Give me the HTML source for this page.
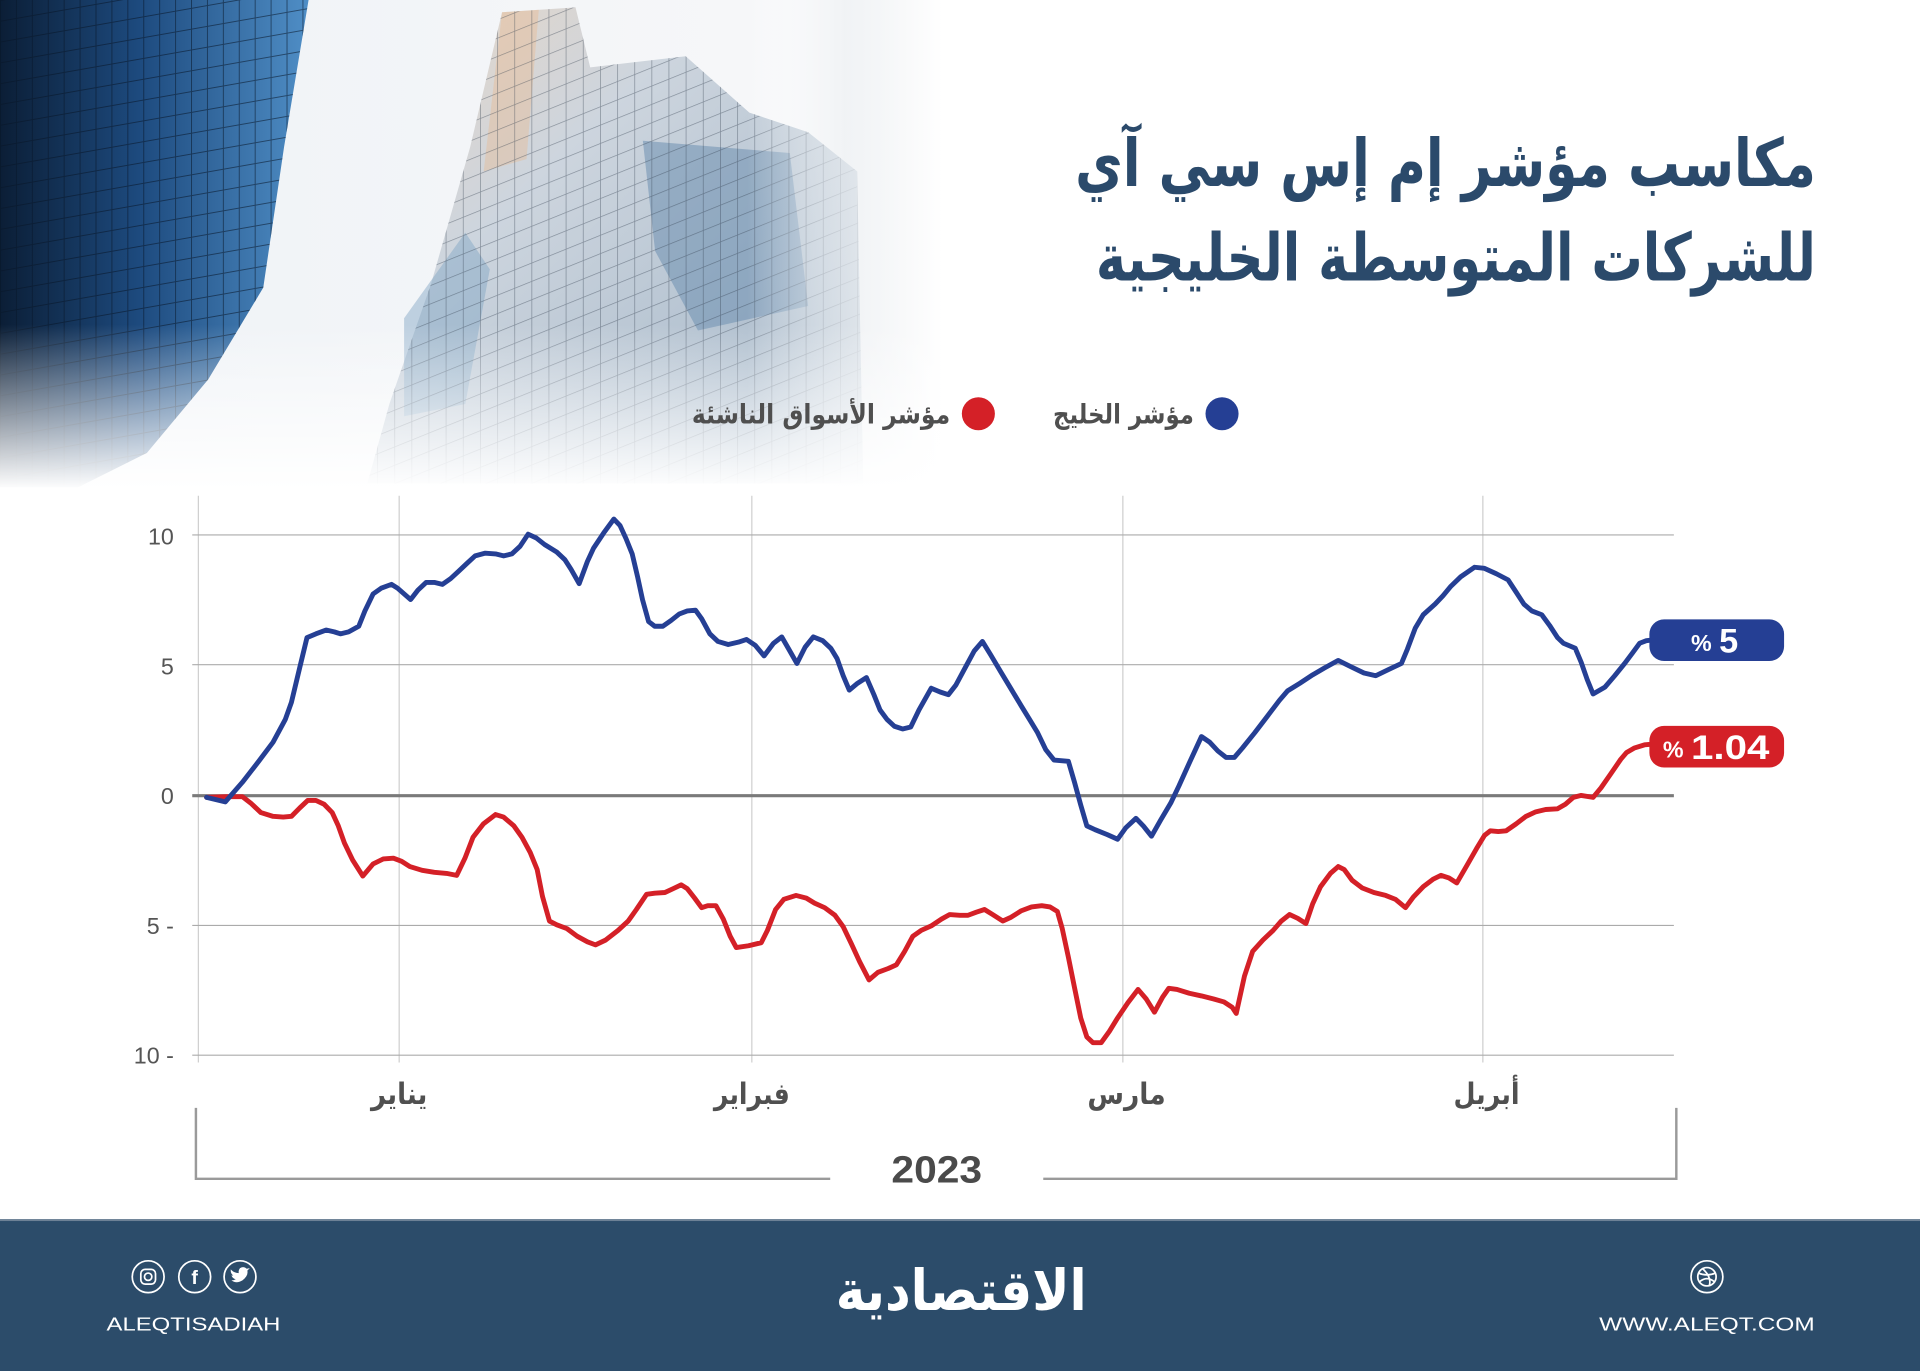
<!DOCTYPE html>
<html><head><meta charset="utf-8">
<style>
html,body{margin:0;padding:0;background:#fff;width:1920px;height:1371px;overflow:hidden}
svg{display:block}
</style></head>
<body>
<svg width="1920" height="1371" viewBox="0 0 1568 1120" preserveAspectRatio="none" xmlns="http://www.w3.org/2000/svg">
<defs>
  <linearGradient id="lb" x1="0" y1="0" x2="1" y2="0">
    <stop offset="0" stop-color="#0b1e36"/>
    <stop offset="0.45" stop-color="#1d4a7e"/>
    <stop offset="1" stop-color="#4f8ec6"/>
  </linearGradient>
  <pattern id="g1" width="13" height="17" patternUnits="userSpaceOnUse" patternTransform="skewY(-10)">
    <path d="M0 0V17M0 0H13" stroke="#081628" stroke-width="1.6" fill="none"/>
  </pattern>
  <pattern id="g2" width="14" height="15" patternUnits="userSpaceOnUse" patternTransform="skewY(-22)">
    <path d="M0 0V15M0 0H14" stroke="#2f3b4b" stroke-width="1.2" fill="none"/>
  </pattern>
  <linearGradient id="sky" x1="0" y1="0" x2="1" y2="0">
    <stop offset="0" stop-color="#eef2f6"/>
    <stop offset="0.8" stop-color="#f6f7f9"/>
    <stop offset="1" stop-color="#ffffff"/>
  </linearGradient>
  <linearGradient id="vfade" x1="0" y1="0" x2="0" y2="1">
    <stop offset="0" stop-color="#ffffff" stop-opacity="0"/>
    <stop offset="1" stop-color="#ffffff" stop-opacity="1"/>
  </linearGradient>
  <linearGradient id="hfade" x1="0" y1="0" x2="1" y2="0">
    <stop offset="0" stop-color="#ffffff" stop-opacity="0"/>
    <stop offset="0.5" stop-color="#eceff2" stop-opacity="0.7"/>
    <stop offset="1" stop-color="#ffffff" stop-opacity="1"/>
  </linearGradient>
  <linearGradient id="tw" x1="0" y1="0" x2="1" y2="1">
    <stop offset="0" stop-color="#e9d6c4"/>
    <stop offset="0.35" stop-color="#cdd5de"/>
    <stop offset="1" stop-color="#9fb3c6"/>
  </linearGradient>
</defs>

<!-- background photo approximation -->
<rect x="0" y="0" width="760" height="400" fill="url(#sky)"/>
<polygon points="0,0 252,0 232,120 215,235 170,310 120,370 60,400 0,400" fill="url(#lb)"/>
<polygon points="0,0 252,0 232,120 215,235 170,310 120,370 60,400 0,400" fill="url(#g1)" opacity="0.55"/>
<polygon points="410,10 470,6 482,55 560,46 612,92 660,108 700,140 705,395 300,395 318,330 352,232 384,120" fill="url(#tw)"/>
<polygon points="525,115 645,125 660,250 570,270 535,205" fill="#6d90b1" opacity="0.55"/>
<polygon points="330,260 380,190 400,220 380,330 330,340" fill="#7ea4c4" opacity="0.45"/>
<polygon points="410,10 440,8 430,130 395,140" fill="#f0b27a" opacity="0.3"/>
<polygon points="410,10 470,6 482,55 560,46 612,92 660,108 700,140 705,395 300,395 318,330 352,232 384,120" fill="url(#g2)" opacity="0.45"/>
<rect x="610" y="0" width="160" height="400" fill="url(#hfade)"/>
<rect x="0" y="265" width="770" height="135" fill="url(#vfade)"/>
<rect x="0" y="398" width="770" height="10" fill="#ffffff"/>

<!-- title -->
<g font-family="'DejaVu Sans', sans-serif" font-weight="bold" fill="#2b4a6b" font-size="54">
  <text x="1180.5" y="152" text-anchor="middle" textLength="605" lengthAdjust="spacingAndGlyphs">مكاسب مؤشر إم إس سي آي</text>
  <text x="1189" y="229" text-anchor="middle" textLength="588" lengthAdjust="spacingAndGlyphs">للشركات المتوسطة الخليجية</text>
</g>

<!-- legend -->
<circle cx="998" cy="338" r="13.5" fill="#253f94"/>
<circle cx="799" cy="338" r="13.5" fill="#d42027"/>
<g font-family="'DejaVu Sans', sans-serif" font-weight="bold" fill="#4f4f4f" font-size="22">
  <text x="917.5" y="346" text-anchor="middle" textLength="115" lengthAdjust="spacingAndGlyphs">مؤشر الخليج</text>
  <text x="670.5" y="346" text-anchor="middle" textLength="211" lengthAdjust="spacingAndGlyphs">مؤشر الأسواق الناشئة</text>
</g>

<!-- grid -->
<g stroke="#cfcfcf" stroke-width="1">
  <line x1="162" y1="405" x2="162" y2="868"/>
  <line x1="326" y1="405" x2="326" y2="868"/>
  <line x1="614" y1="405" x2="614" y2="868"/>
  <line x1="917" y1="405" x2="917" y2="868"/>
  <line x1="1211" y1="405" x2="1211" y2="868"/>
</g>
<g stroke="#ababab" stroke-width="1">
  <line x1="157" y1="437" x2="1367" y2="437"/>
  <line x1="157" y1="543" x2="1367" y2="543"/>
  <line x1="157" y1="756" x2="1367" y2="756"/>
  <line x1="157" y1="862" x2="1367" y2="862"/>
</g>
<line x1="157" y1="650" x2="1367" y2="650" stroke="#7a7a7a" stroke-width="2.5"/>

<!-- y labels -->
<g font-family="'Liberation Sans', sans-serif" fill="#555" font-size="19" text-anchor="end">
  <text x="142" y="445">10</text>
  <text x="142" y="551">5</text>
  <text x="142" y="657">0</text>
  <text x="142" y="763">5 -</text>
  <text x="142" y="869">10 -</text>
</g>

<!-- series -->
<polyline fill="none" stroke="#d42027" stroke-width="4" stroke-linejoin="round" stroke-linecap="round" points="168.7,651.4 184.7,650.8 198,650.8 204.7,656 213,663.8 223,666.9 231.3,667.5 238,666.9 244.7,660.1 251.3,653.9 258,653.9 264.7,657 271.3,663.8 276.3,674.7 281.3,688.7 288,702.6 296.3,715.7 304.7,705.8 313,701.7 321.3,701.1 328,703.6 334.7,707.9 344.7,711 354.7,712.6 364.7,713.5 373,715.1 379.7,701.1 386.3,684 394.7,673.1 404.7,665.4 411.3,667.5 419.7,674.7 426.3,684 433,696.4 438.7,710.4 443,732.2 448.7,752.4 454.7,755.5 463,758.6 471.3,764.8 479.7,769.4 486.3,771.9 494.7,767.9 504.7,760.1 513,752.4 519.7,743 528,730.6 534.7,729.7 543,729.1 549.7,726 556.3,722.8 561.3,726 567.3,733.7 573,741.5 578,739.9 584.7,739.9 590.7,750.8 596.3,764.8 601.3,774.1 611.3,772.6 621.7,770.1 626.7,760.1 633.4,743 640.1,734.7 650.1,731.5 658.5,733.7 665.2,737.8 673.5,741.5 681.9,747.7 688.6,757 695.3,771 702,785.6 709.7,800.5 717,794.3 725.4,791.2 732.1,788.1 738.8,777.2 745.5,764.8 752.2,760.1 760.5,756.4 768.9,750.8 775.6,747.1 783.9,747.7 790.6,747.7 797.3,745.2 804,743 810.7,747.1 819,752.4 825.7,749.3 834.1,744 842.4,740.9 850.8,739.9 857.5,740.9 863.5,744.6 867.5,758.6 872.5,781.9 877.5,806.7 882.6,831.6 887.6,847.1 892.6,851.8 899.3,851.8 906,842.5 912.7,831.6 921.1,819.2 929.4,808.3 936.1,816.1 942.8,826.9 949.5,814.5 954.5,807.4 961.2,808.3 971.2,811.4 981.2,813.6 991.2,816.1 999.6,818.5 1006.3,822.9 1009.6,827.9 1016.3,797.4 1023,777.2 1031.4,767.9 1039.7,760.1 1046.4,752.4 1053.1,747.1 1059.8,750.2 1066.5,754.5 1072,738.4 1078.4,724.4 1086.5,713.5 1092.9,707.9 1097.8,710.4 1104.2,719.1 1112.3,725.3 1122,729.1 1131.6,731.5 1139.7,734.7 1147.8,741.5 1154.2,732.8 1162.3,724.4 1170.4,718.2 1176.8,715.1 1183.3,717.2 1189.7,721.3 1197.8,707.3 1205.8,693.3 1212.3,682.5 1217.1,678.7 1223.6,679.3 1230,678.7 1238.1,673.1 1246.2,666.9 1254.2,663.2 1262.3,661.3 1272,660.7 1278.4,657 1284.9,651.4 1291.3,649.8 1301,651.4 1307.5,643.6 1315.5,632.1 1323.6,620.3 1328.4,614.7 1334.9,611 1343,608.5 1348,608"/>
<polyline fill="none" stroke="#253f94" stroke-width="4" stroke-linejoin="round" stroke-linecap="round" points="168.7,651.4 184,655.1 198,639 211.3,621.9 223,606.3 233,587.7 238,573.7 244.7,545.7 250.7,520.9 258,517.8 266.3,514.7 273,516.2 278,517.8 284.7,516.2 293,511.6 298,499.1 304.7,485.2 311.3,480.5 319.7,477.4 324.7,480.5 335.3,489.8 341.3,482.1 348,475.8 354.7,475.8 361.3,477.4 368,472.7 374.7,466.5 381.3,460.3 388,454.1 396.3,451.9 404.7,452.5 411.3,454.1 418,452.5 424.7,446.3 431.3,436.4 438,439.5 444.7,444.8 454.7,451 461.3,457.2 466.3,465 473,476.8 479.7,458.7 484.7,447.9 493,435.4 501.3,424 506.3,429.2 511.3,440.1 516.3,452.5 520.7,471.2 524.7,489.8 529.7,507.8 534.7,511.6 541.3,511.6 548,506.9 554.7,501.6 561.3,499.1 568,498.5 573,505.4 579.7,517.8 586.3,524 594.7,526.5 603,524.6 609.7,522.4 616.7,527.1 624,535.8 631.7,525.5 638.4,520.3 644.1,530.2 650.8,542 657.5,528.7 664.2,520.3 671.9,523.4 678.5,529.6 683.6,538 688.6,552 693.6,563.8 700.3,558.2 707.6,553.5 713.7,567.5 718.7,580 724.4,587.7 730.4,593.3 737.1,595.5 743.8,593.9 750.5,580 760.5,562.2 767.8,565.3 774.5,567.5 780.6,559.7 788.9,544.2 795.6,531.8 802.3,524 809,534.9 817.3,548.9 825.7,562.8 834.1,576.8 840.8,587.7 847.4,598.6 854.1,612.5 860.8,620.9 872.5,621.9 877.5,639 882.6,657.6 887.6,674.7 894.3,677.8 904.3,681.8 912.7,685.6 919.4,676.2 927.7,668.5 933.7,674.7 940.4,683.1 947.8,670 956.1,656 962.8,642 971.2,623.4 981.2,601.7 987.9,606.3 994.6,613.5 1001.3,618.8 1008,618.8 1014.7,611 1024.7,598.6 1034.7,585.5 1044.8,572.2 1051.5,564.4 1061.5,558.2 1072,551.3 1081.6,545.7 1092.9,539.5 1104.2,545.1 1113.9,549.8 1123.6,552 1133.3,547.3 1144.5,542 1149.4,530.2 1155.8,513.1 1162.3,502.2 1172,493.5 1178.4,486.7 1184.9,478.9 1192.9,471.2 1204.2,463.4 1212.3,464.3 1222,468.7 1231.6,473.7 1238.1,483.6 1244.5,493.5 1251,499.1 1259.1,502.2 1265.5,510.9 1272,520.9 1276.8,525.5 1286.5,529.6 1291.3,541.1 1296.2,555.1 1301,566.9 1310.7,561.3 1318.7,552 1326.8,542 1333.3,533.3 1339,525.5 1344.5,523.4 1348,523"/>

<!-- end labels -->
<rect x="1347" y="506" width="110" height="34" rx="12" fill="#253f94"/>
<rect x="1347" y="593" width="110" height="34" rx="12" fill="#d42027"/>
<g font-family="'Liberation Sans', sans-serif" fill="#ffffff">
  <text x="1381" y="532" font-size="19" font-weight="bold">%</text>
  <text x="1404" y="533" font-size="28" font-weight="bold">5</text>
  <text x="1358" y="619" font-size="19" font-weight="bold">%</text>
  <text x="1381" y="620" font-size="28" font-weight="bold" textLength="64" lengthAdjust="spacingAndGlyphs">1.04</text>
</g>

<!-- month labels -->
<g font-family="'DejaVu Sans', sans-serif" font-weight="bold" fill="#505050" font-size="24" text-anchor="middle">
  <text x="326" y="902" textLength="46" lengthAdjust="spacingAndGlyphs">يناير</text>
  <text x="614" y="902" textLength="62" lengthAdjust="spacingAndGlyphs">فبراير</text>
  <text x="920" y="902" textLength="64" lengthAdjust="spacingAndGlyphs">مارس</text>
  <text x="1214" y="902" textLength="54" lengthAdjust="spacingAndGlyphs">أبريل</text>
</g>

<!-- year bracket -->
<g stroke="#9a9a9a" stroke-width="2" fill="none">
  <polyline points="160,905 160,963 678,963"/>
  <polyline points="852,963 1369,963 1369,905"/>
</g>
<text x="765" y="966" text-anchor="middle" font-family="'Liberation Sans', sans-serif" font-weight="bold" font-size="31" fill="#4a4a4a" textLength="74" lengthAdjust="spacingAndGlyphs">2023</text>

<!-- footer -->
<rect x="0" y="996" width="1568" height="124" fill="#2c4c6a"/>
<rect x="0" y="996" width="1568" height="1.5" fill="#6d8196"/>
<g stroke="#ffffff" stroke-width="1.4" fill="none">
  <circle cx="121" cy="1043" r="13"/>
  <circle cx="159" cy="1043" r="13"/>
  <circle cx="196" cy="1043" r="13"/>
  <rect x="115" y="1037" width="12" height="12" rx="3.5"/>
  <circle cx="121" cy="1043" r="3"/>
  <circle cx="1394" cy="1043" r="13"/>
  <circle cx="1394" cy="1043" r="7.5"/>
  <path d="M1387 1040 Q1394 1043 1401 1040 M1390 1036 Q1398 1043 1396 1050 M1388 1047 Q1394 1042 1400 1047"/>
</g>
<text x="159" y="1049" text-anchor="middle" font-family="'Liberation Sans', sans-serif" font-weight="bold" font-size="16" fill="#ffffff">f</text>
<path d="M189 1046 Q193 1049 198 1046 Q203 1042 202 1038 L204 1036 L201.5 1036.5 Q199 1034 196 1036 Q194.5 1038 195 1040 Q191 1040 188.5 1037 Q188 1040 190.5 1042 L189 1042 Q190 1044.5 192.5 1045 Q191 1046 189 1046 Z" fill="#ffffff"/>
<g font-family="'Liberation Sans', sans-serif" fill="#ffffff" font-size="15" text-anchor="middle">
  <text x="158" y="1087" textLength="142" lengthAdjust="spacingAndGlyphs">ALEQTISADIAH</text>
  <text x="1394" y="1087" textLength="176" lengthAdjust="spacingAndGlyphs">WWW.ALEQT.COM</text>
</g>
<text x="785" y="1070" text-anchor="middle" font-family="'DejaVu Sans', sans-serif" font-weight="bold" font-size="46" fill="#ffffff" textLength="205" lengthAdjust="spacingAndGlyphs">الاقتصادية</text>
</svg>
</body></html>
